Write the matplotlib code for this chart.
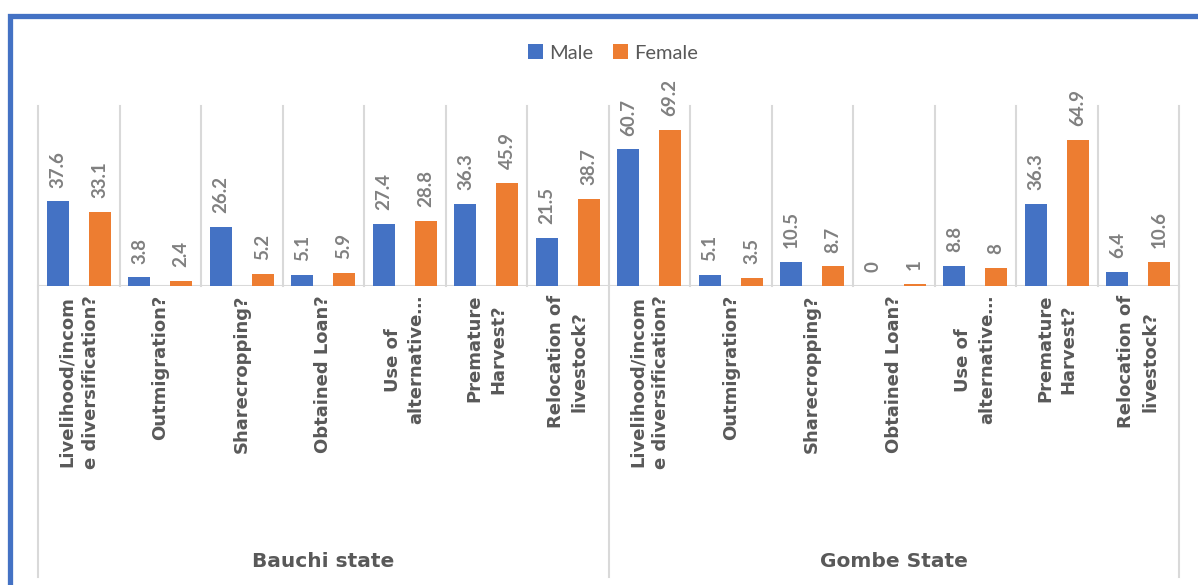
import numpy as np
import matplotlib.pyplot as plt
from matplotlib.patches import Rectangle
from matplotlib.lines import Line2D

# data
states = ['Bauchi state', 'Gombe State']
strategies = ['Livelihood/incom\ne diversification?', 'Outmigration?', 'Sharecropping?',
              'Obtained Loan?', 'Use of\nalternative\u2026', 'Premature\nHarvest?',
              'Relocation of\nlivestock?']
male = [37.6, 3.8, 26.2, 5.1, 27.4, 36.3, 21.5,
        60.7, 5.1, 10.5, 0, 8.8, 36.3, 6.4]
female = [33.1, 2.4, 5.2, 5.9, 28.8, 45.9, 38.7,
          69.2, 3.5, 8.7, 1, 8, 64.9, 10.6]

blue = '#4472C4'
orange = '#ED7D31'
grid_c = '#D9D9D9'

plt.rcParams['font.family'] = ['Lato', 'DejaVu Sans']

fig = plt.figure(figsize=(11.98, 5.85), dpi=100)
ax = fig.add_axes([38/1198, 299/585, (1179-38)/1198, (479-299)/585])

n = len(male)
x = np.arange(n)
w = 0.27
off = 0.255
b1 = ax.bar(x - off, male, w, color=blue, label='Male')
b2 = ax.bar(x + off, female, w, color=orange, label='Female')

for bars, vals in ((b1, male), (b2, female)):
    for r, v in zip(bars, vals):
        ax.annotate(f'{v:g}', (r.get_x() + r.get_width()/2, r.get_height()),
                    xytext=(0, 10), textcoords='offset points', rotation=90,
                    ha='center', va='bottom', fontsize=13.5, fontweight='bold',
                    color='#808080')

ax.set_xlim(-0.5, n - 0.5)
ax.set_ylim(0, 80)
ax.set_yticks([])
ax.set_xticks([])
for s in ax.spines.values():
    s.set_visible(False)
ax.axhline(0, color=grid_c, lw=1.5, zorder=0)

# separators between categories
for i in range(n + 1):
    xs = i - 0.5
    ax.plot([xs, xs], [0, 80], color=grid_c, lw=1.5, zorder=0, clip_on=False)

# group separators down to the bottom
trans = ax.get_xaxis_transform()
for xs in (-0.5, 6.5, 13.5):
    xf = (ax.transData.transform((xs, 0))[0]) / fig.bbox.width
    fig.add_artist(Line2D([xf, xf], [8/585, 299/585], color=grid_c, lw=1.5))

# category labels
for i in range(n):
    ax.text(i, -0.05, strategies[i % 7], transform=trans, rotation=90,
            ha='center', va='top', multialignment='center',
            fontsize=13, fontweight='bold', color='#595959',
            family=['DejaVu Sans'], linespacing=1.4)

# state labels
for k, st in enumerate(states):
    ax.text(3 + 7*k, -1.53, st, transform=trans, ha='center', va='center',
            fontsize=14.5, fontweight='bold', color='#595959', family=['DejaVu Sans'])

leg = fig.legend(loc='center', bbox_to_anchor=(613/1198, 1 - 53/585), ncol=2,
                 frameon=False, fontsize=14.5, handlelength=0.75, handleheight=0.75,
                 handletextpad=0.3, columnspacing=1.0, labelcolor='#595959')

# chart border
fig.add_artist(Rectangle((9.5/1198, -0.05), 1.2, 1 - 16/585 + 0.05,
                         transform=fig.transFigure, fill=False,
                         edgecolor=blue, lw=3.8))

fig.savefig('out.png', dpi=100)
